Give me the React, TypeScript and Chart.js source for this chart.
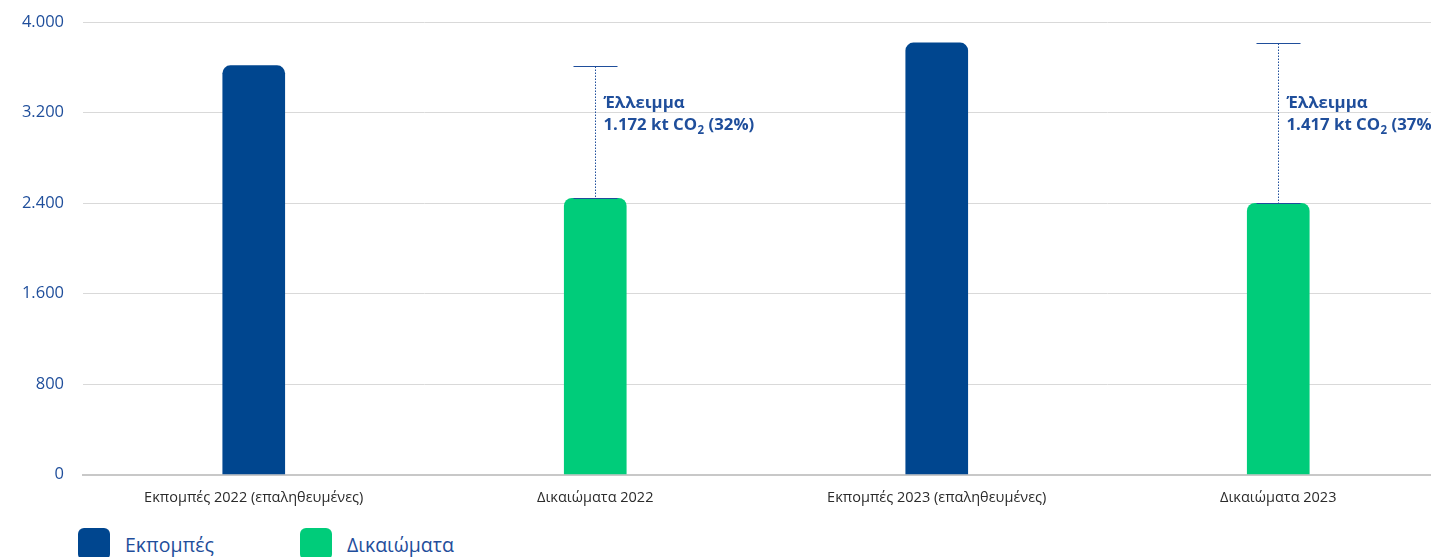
import React, { useEffect, useRef } from "react";
import { Chart, registerables } from "chart.js";

Chart.register(...registerables);

const categories = [
  "Εκπομπές 2022 (επαληθευμένες)",
  "Δικαιώματα 2022",
  "Εκπομπές 2023 (επαληθευμένες)",
  "Δικαιώματα 2023",
];
const seriesNames = ["Εκπομπές", "Δικαιώματα"];
const emissions = [3614, null, 3815, null];
const allowances = [null, 2442, null, 2398];
const deficitCategoryIndex = [1, 3];
const deficitValues = [1172, 1417];
const deficitPercents = [32, 37];
const deficitTitle = "Έλλειμμα";
const yTicks = [0, 800, 1600, 2400, 3200, 4000];
const yTickLabels = ["0", "800", "1.600", "2.400", "3.200", "4.000"];

const BLUE = "#00468f";
const GREEN = "#00cc7a";
const TEXT_BLUE = "#1f4e9b";
const FONT = "'Open Sans', 'Noto Sans', sans-serif";

const fmt = (v: number) => v.toString().replace(/\B(?=(\d{3})+(?!\d))/g, ".");

const deficitPlugin = {
  id: "deficitPlugin",
  afterDatasetsDraw(chart: any) {
    const { ctx } = chart;
    const x = chart.scales.x;
    const y = chart.scales.y;
    ctx.save();
    deficitCategoryIndex.forEach((ci, k) => {
      const cx = Math.round(x.getPixelForValue(ci)) + 0.5;
      const top = Math.round(y.getPixelForValue(emissions[ci - 1] as number)) + 0.5;
      const bot = Math.round(y.getPixelForValue(allowances[ci] as number)) + 0.5;
      ctx.strokeStyle = TEXT_BLUE;
      ctx.lineWidth = 1.2;
      ctx.setLineDash([]);
      ctx.beginPath();
      ctx.moveTo(cx - 22, top);
      ctx.lineTo(cx + 22, top);
      ctx.moveTo(cx - 22, bot);
      ctx.lineTo(cx + 22, bot);
      ctx.stroke();
      ctx.lineWidth = 1;
      ctx.setLineDash([1.5, 1.5]);
      ctx.beginPath();
      ctx.moveTo(cx, top);
      ctx.lineTo(cx, bot);
      ctx.stroke();
      ctx.setLineDash([]);

      const x0 = cx + 8;
      const y1 = y.getPixelForValue(3240);
      const y2 = y1 + 22;
      ctx.fillStyle = TEXT_BLUE;
      ctx.textAlign = "left";
      ctx.textBaseline = "alphabetic";
      ctx.font = `bold 16.8px ${FONT}`;
      ctx.fillText(deficitTitle, x0, y1);
      const s1 = `${fmt(deficitValues[k])} kt CO`;
      ctx.fillText(s1, x0, y2);
      let w = ctx.measureText(s1).width;
      ctx.font = `bold 11.5px ${FONT}`;
      ctx.fillText("2", x0 + w + 0.5, y2 + 4);
      w += ctx.measureText("2").width + 0.5;
      ctx.font = `bold 16.8px ${FONT}`;
      ctx.fillText(` (${deficitPercents[k]}%)`, x0 + w, y2);
    });
    ctx.restore();
  },
};

export default function App() {
  const canvasRef = useRef<HTMLCanvasElement | null>(null);

  useEffect(() => {
    if (!canvasRef.current) return;
    const chart = new Chart(canvasRef.current, {
      type: "bar",
      data: {
        labels: categories,
        datasets: [
          {
            label: seriesNames[0],
            data: emissions,
            backgroundColor: BLUE,
            barThickness: 62,
            borderRadius: { topLeft: 8, topRight: 8, bottomLeft: 0, bottomRight: 0 },
            borderSkipped: false,
          },
          {
            label: seriesNames[1],
            data: allowances,
            backgroundColor: GREEN,
            barThickness: 62,
            borderRadius: { topLeft: 8, topRight: 8, bottomLeft: 0, bottomRight: 0 },
            borderSkipped: false,
          },
        ],
      },
      options: {
        animation: false,
        responsive: true,
        maintainAspectRatio: false,
        layout: { padding: { top: 22, left: 0, right: 0, bottom: 0 } },
        plugins: {
          legend: { display: false },
          tooltip: { enabled: false },
        },
        scales: {
          x: {
            stacked: true,
            grid: { display: false, drawTicks: false },
            border: { display: true, color: "#c8c8c8", width: 2 },
            ticks: {
              padding: 15,
              color: "#2b2b2b",
              font: { family: FONT, size: 14.5 },
              maxRotation: 0,
              autoSkip: false,
            },
          },
          y: {
            stacked: true,
            min: 0,
            max: 4000,
            afterFit: (scale: any) => {
              scale.width = 83;
              scale.paddingTop = 0;
              scale.paddingBottom = 0;
            },
            afterBuildTicks: (scale: any) => {
              scale.ticks = yTicks.map((v) => ({ value: v }));
            },
            grid: { color: "#d9d9d9", lineWidth: 1, drawTicks: false },
            border: { display: false },
            ticks: {
              padding: 19,
              color: TEXT_BLUE,
              font: { family: FONT, size: 16.5 },
              callback: (value: any) => {
                const i = yTicks.indexOf(Number(value));
                return i >= 0 ? yTickLabels[i] : "";
              },
            },
          },
        },
      },
      plugins: [deficitPlugin],
    } as any);
    return () => chart.destroy();
  }, []);

  const legendColors = [BLUE, GREEN];
  const legendLefts = [78, 300];

  return (
    <div
      style={{
        position: "fixed",
        left: 0,
        top: 0,
        width: 1431,
        height: 557,
        overflow: "hidden",
        background: "#fff",
      }}
    >
      <div style={{ position: "absolute", left: 0, top: 0, width: 1449, height: 522 }}>
        <canvas ref={canvasRef} />
      </div>
      {seriesNames.map((name, i) => (
        <div
          key={name}
          style={{
            position: "absolute",
            left: legendLefts[i],
            top: 528,
            display: "flex",
            alignItems: "center",
            fontFamily: FONT,
            fontSize: 19.5,
            color: TEXT_BLUE,
          }}
        >
          <span
            style={{
              display: "inline-block",
              width: 32,
              height: 32,
              borderRadius: 6,
              background: legendColors[i],
              marginRight: 15,
            }}
          />
          <span>{name}</span>
        </div>
      ))}
    </div>
  );
}
